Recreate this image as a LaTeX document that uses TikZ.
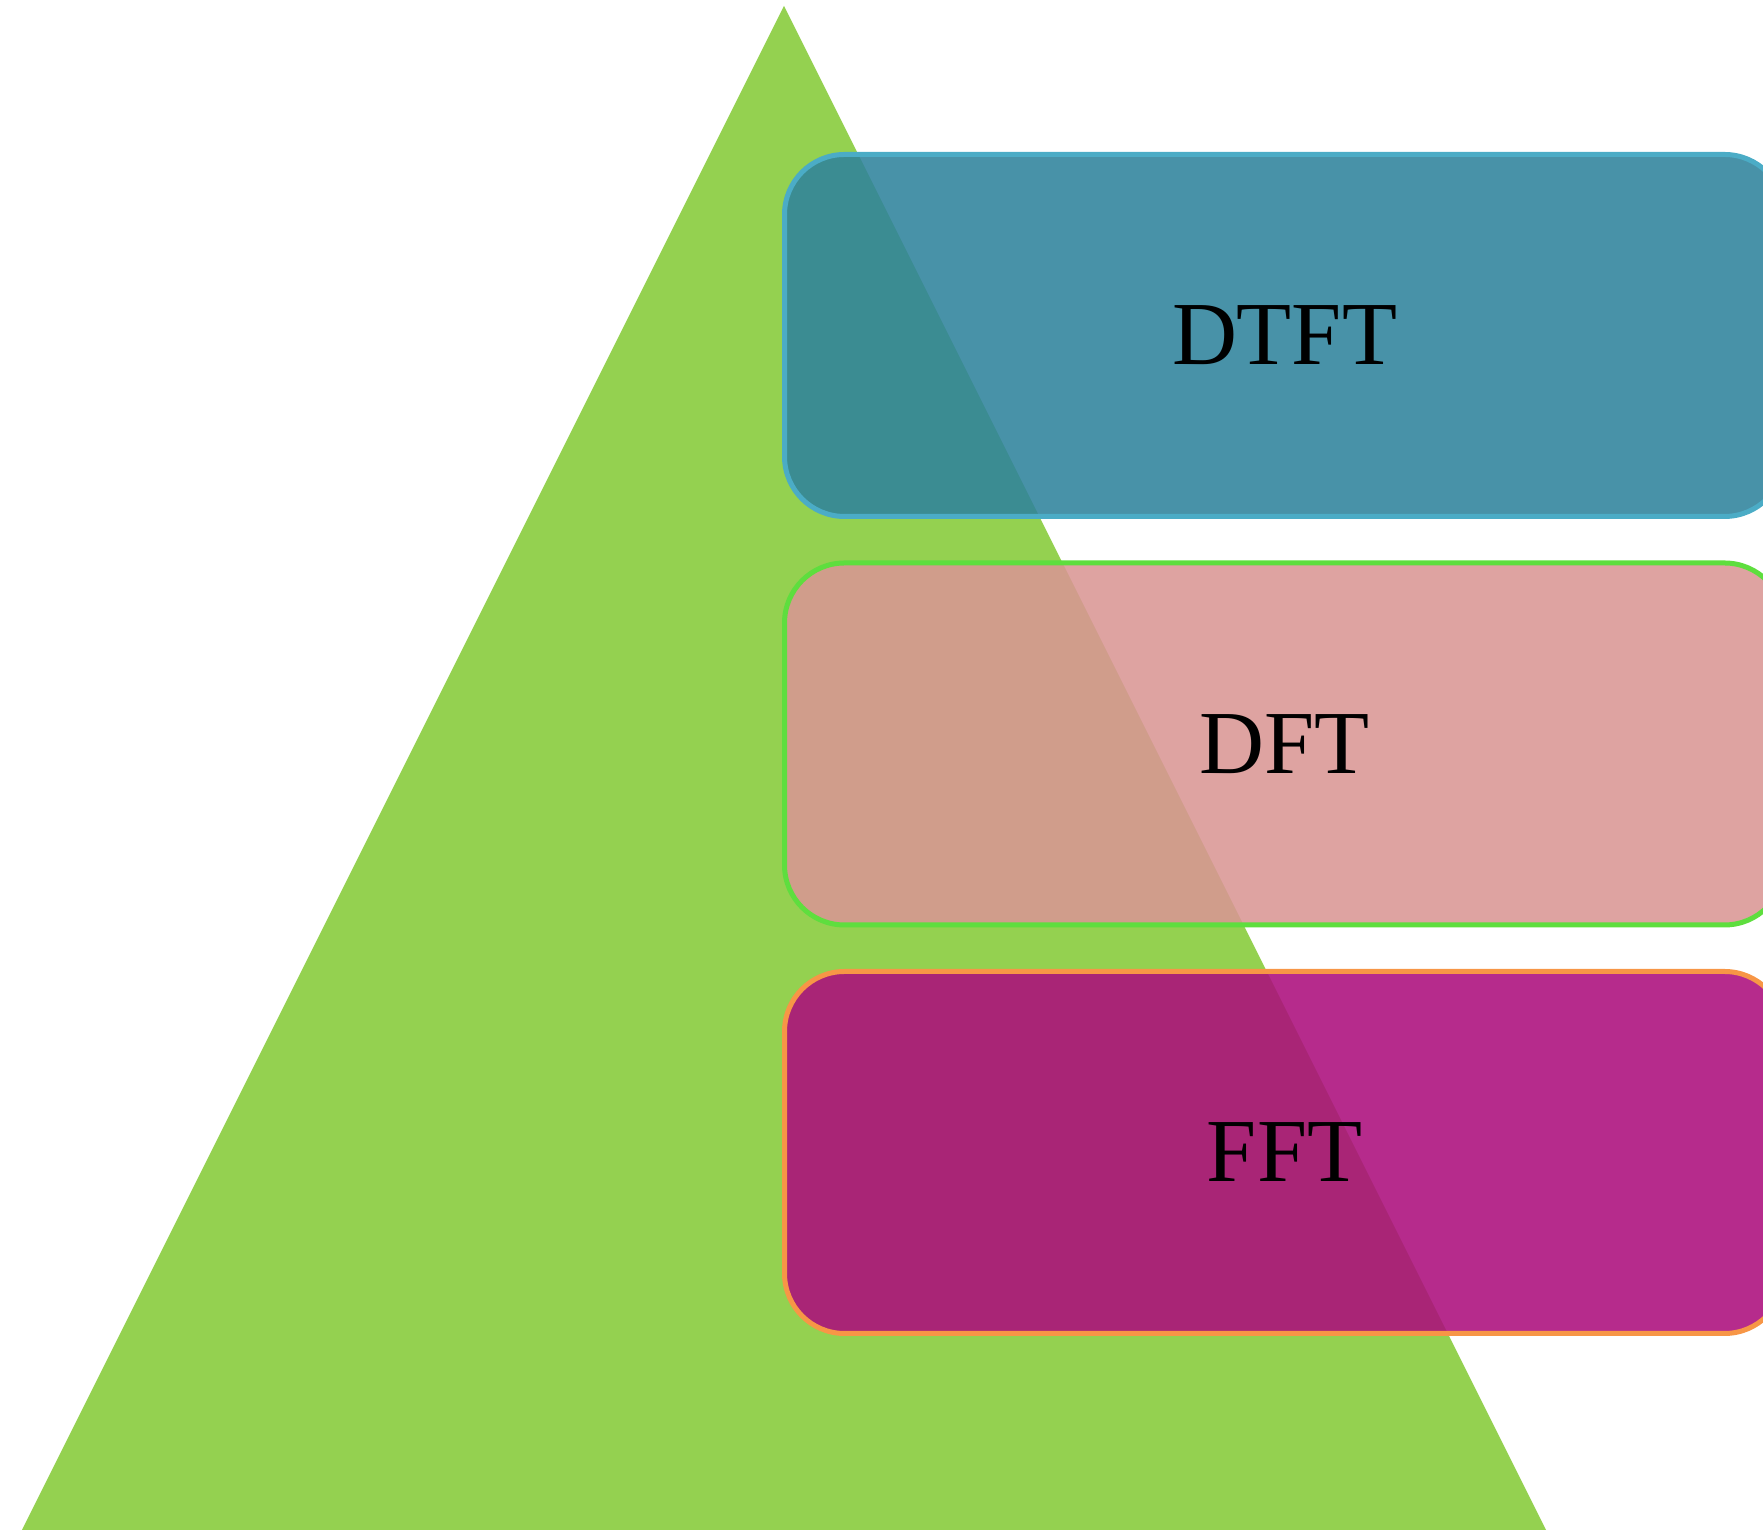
\documentclass[tikz,border=0pt]{standalone}
\usepackage{fontspec}
\setmainfont{Liberation Serif}
\usetikzlibrary{positioning}
\definecolor{pyramidgreen}{RGB}{148,209,80}
\definecolor{dtftfill}{RGB}{47,131,156}
\definecolor{dtftline}{RGB}{75,172,198}
\definecolor{dftfill}{RGB}{217,150,148}
\definecolor{dftline}{RGB}{94,222,62}
\definecolor{fftfill}{RGB}{172,14,124}
\definecolor{fftline}{RGB}{247,150,70}
\tikzset{
  levelbox/.style={rounded corners=30pt, line width=2.5pt, fill opacity=0.88,
    text opacity=1, minimum width=500pt, minimum height=181pt, inner sep=0pt,
    font=\fontsize{45}{54}\selectfont}
}
\begin{document}
\begin{tikzpicture}[x=0.5pt,y=0.5pt]
                    \useasboundingbox (0,0) rectangle (1763,1530);
                    \clip (0,0) rectangle (1763,1530);

                    \coordinate (TOP) at (784,1524);
                    \coordinate (BL) at (22,0);
                    \coordinate (BR) at (1546,0);

                        \fill[pyramidgreen] (TOP) -- (BR) -- (BL) -- cycle;

                    \node[levelbox, draw=dtftline, fill=dtftfill] (DTFT) at (1284.5,1194.5) {DTFT};
                    \node[levelbox, draw=dftline, fill=dftfill] (DFT) at (1284.5,786) {DFT};
                    \node[levelbox, draw=fftline, fill=fftfill] (FFT) at (1284.5,377.5) {FFT};
                \end{tikzpicture}
\end{document}
